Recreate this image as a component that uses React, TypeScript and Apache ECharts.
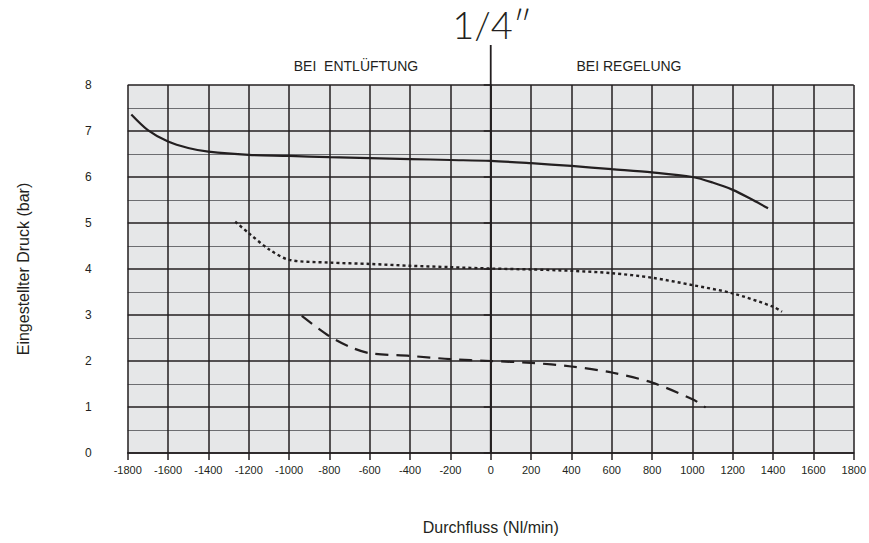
import React, { useEffect, useRef } from "react";
import * as echarts from "echarts";

const xTicks = { min: -1800, max: 1800, interval: 200 };
const yTicks = { min: 0, max: 8, interval: 1 };

const solidCurve: [number, number][] = [
  [-1782, 7.36], [-1700, 7.02], [-1600, 6.77], [-1500, 6.63], [-1400, 6.55], [-1200, 6.48],
  [-1000, 6.46], [-800, 6.43], [-600, 6.41], [-400, 6.39], [-200, 6.37], [0, 6.35],
  [200, 6.3], [400, 6.24], [600, 6.17], [800, 6.1], [1000, 6.0], [1100, 5.88],
  [1200, 5.72], [1300, 5.5], [1375, 5.32],
];
const dottedCurve: [number, number][] = [
  [-1267, 5.03], [-1200, 4.78], [-1100, 4.43], [-1000, 4.2], [-800, 4.14], [-600, 4.11],
  [-400, 4.07], [-200, 4.04], [0, 4.01], [200, 3.99], [400, 3.96], [600, 3.91],
  [800, 3.81], [1000, 3.65], [1200, 3.47], [1400, 3.18], [1444, 3.07],
];
const dashedCurve: [number, number][] = [
  [-937, 2.98], [-800, 2.54], [-700, 2.31], [-600, 2.17], [-400, 2.11], [-200, 2.04],
  [0, 2.0], [200, 1.96], [400, 1.88], [600, 1.75], [800, 1.53], [1000, 1.17], [1066, 0.99],
];
const dividerLine: [number, number][] = [[0, 0], [0, 8.87]];

const title = "1/4″";
const leftLabel = "BEI  ENTLÜFTUNG";
const rightLabel = "BEI REGELUNG";
const xName = "Durchfluss (Nl/min)";
const yName = "Eingestellter Druck (bar)";

const INK = "#231f20";
const FONT = "Liberation Sans, Arial, sans-serif";

export default function App() {
  const ref = useRef<HTMLDivElement>(null);
  useEffect(() => {
    if (!ref.current) return;
    const chart = echarts.init(ref.current, undefined, { renderer: "svg" });
    const lineSeries = (data: [number, number][], type: any, width: number) => ({
      type: "line",
      data,
      smooth: 0.3,
      showSymbol: false,
      symbol: "none",
      lineStyle: { color: INK, width, type },
      z: 5,
    });
    chart.setOption({
      animation: false,
      backgroundColor: "#ffffff",
      textStyle: { fontFamily: FONT },
      grid: {
        left: 127.7,
        right: 12,
        top: 85,
        bottom: 90,
        show: true,
        backgroundColor: "#e6e7e8",
        borderWidth: 0,
      },
      xAxis: {
        type: "value",
        min: xTicks.min,
        max: xTicks.max,
        interval: xTicks.interval,
        name: xName,
        nameLocation: "middle",
        nameGap: 66,
        nameTextStyle: { color: INK, fontSize: 16, fontFamily: FONT },
        axisLine: { show: true, lineStyle: { color: INK, width: 1.5 } },
        axisTick: { show: true, length: 7, lineStyle: { color: INK, width: 1.5 } },
        axisLabel: {
          color: INK,
          fontSize: 11,
          margin: 11,
          fontFamily: FONT,
          formatter: (v: number) => String(v),
        },
        splitLine: { show: true, lineStyle: { color: INK, width: 1.5 } },
      },
      yAxis: {
        type: "value",
        min: yTicks.min,
        max: yTicks.max,
        interval: yTicks.interval,
        name: yName,
        nameLocation: "middle",
        nameGap: 96,
        nameRotate: 90,
        nameTextStyle: { color: INK, fontSize: 16, fontFamily: FONT },
        axisLine: { show: true, lineStyle: { color: INK, width: 1.5 } },
        axisTick: { show: true, inside: false, length: 7, lineStyle: { color: INK, width: 1.5 } },
        axisLabel: { color: INK, fontSize: 12, margin: 36, fontFamily: FONT },
        splitLine: { show: true, lineStyle: { color: INK, width: 1.5 } },
        minorTick: { show: false, splitNumber: 2 },
        minorSplitLine: { show: true, lineStyle: { color: "#6d6e71", width: 1 } },
      },
      series: [
        lineSeries(solidCurve, "solid", 2.2),
        lineSeries(dottedCurve, [3, 3], 2.4),
        lineSeries(dashedCurve, [13, 8], 2.2),
        {
          type: "line",
          data: dividerLine,
          clip: false,
          showSymbol: false,
          symbol: "none",
          lineStyle: { color: INK, width: 1.8 },
          z: 6,
        },
      ],
      graphic: [
        {
          type: "text",
          x: 492,
          y: 24,
          style: {
            text: title,
            fontSize: 38,
            fontWeight: 300,
            fill: INK,
            fontFamily: "Lato, 'Open Sans', sans-serif",
            textAlign: "center",
            textVerticalAlign: "middle",
          },
        },
        {
          type: "text",
          x: 356,
          y: 66,
          style: {
            text: leftLabel,
            fontSize: 14,
            fill: INK,
            fontFamily: FONT,
            textAlign: "center",
            textVerticalAlign: "middle",
          },
        },
        {
          type: "text",
          x: 629,
          y: 66,
          style: {
            text: rightLabel,
            fontSize: 14,
            fill: INK,
            fontFamily: FONT,
            textAlign: "center",
            textVerticalAlign: "middle",
          },
        },
      ],
    });
    return () => chart.dispose();
  }, []);
  return (
    <div
      ref={ref}
      style={{ position: "fixed", left: 0, top: 0, width: 869, height: 543 }}
    />
  );
}
